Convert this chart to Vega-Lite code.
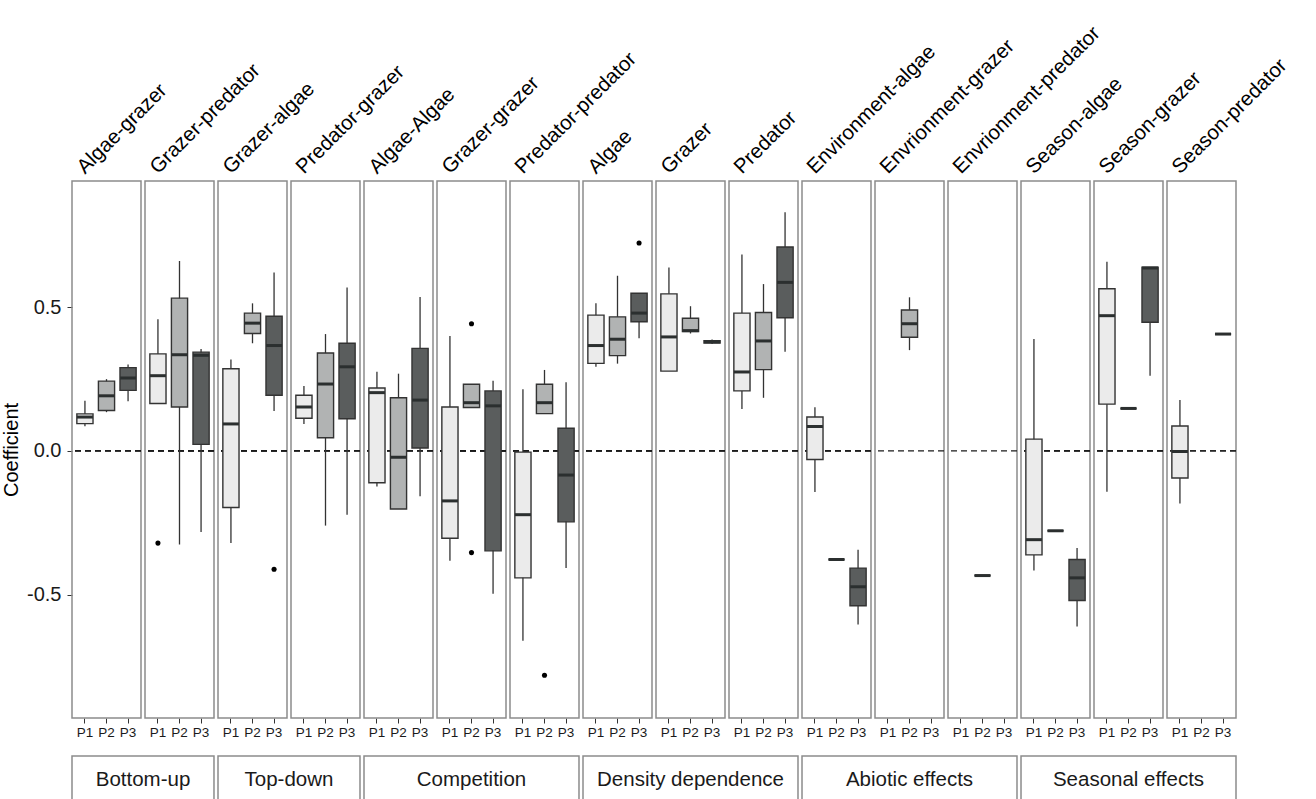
{
  "$schema": "https://vega.github.io/schema/vega-lite/v6.json",
  "background": "white",
  "padding": {"left": 1, "top": 22, "right": 5, "bottom": 0},
  "config": {
    "font": "Liberation Sans",
    "view": {"stroke": "#8c8c8c", "strokeWidth": 1.5},
    "axis": {"grid": false, "domain": false, "tickColor": "#333333", "labelColor": "#1a1a1a", "titleColor": "#000000", "titleFontWeight": "normal"},
    "concat": {"spacing": 16}
  },
  "vconcat": [
    {
      "data": {"values": [
        {"panel": "Algae-grazer", "period": "P1", "lower": 0.086, "q1": 0.095, "median": 0.118, "q3": 0.129, "upper": 0.175},
        {"panel": "Algae-grazer", "period": "P2", "lower": 0.135, "q1": 0.141, "median": 0.192, "q3": 0.243, "upper": 0.250},
        {"panel": "Algae-grazer", "period": "P3", "lower": 0.173, "q1": 0.211, "median": 0.254, "q3": 0.290, "upper": 0.301},
        {"panel": "Grazer-predator", "period": "P1", "lower": 0.165, "q1": 0.165, "median": 0.262, "q3": 0.338, "upper": 0.459},
        {"panel": "Grazer-predator", "period": "P2", "lower": -0.326, "q1": 0.153, "median": 0.335, "q3": 0.532, "upper": 0.661},
        {"panel": "Grazer-predator", "period": "P3", "lower": -0.282, "q1": 0.023, "median": 0.333, "q3": 0.344, "upper": 0.355},
        {"panel": "Grazer-algae", "period": "P1", "lower": -0.321, "q1": -0.197, "median": 0.094, "q3": 0.286, "upper": 0.318},
        {"panel": "Grazer-algae", "period": "P2", "lower": 0.375, "q1": 0.409, "median": 0.445, "q3": 0.480, "upper": 0.514},
        {"panel": "Grazer-algae", "period": "P3", "lower": 0.139, "q1": 0.194, "median": 0.367, "q3": 0.469, "upper": 0.621},
        {"panel": "Predator-grazer", "period": "P1", "lower": 0.094, "q1": 0.114, "median": 0.153, "q3": 0.194, "upper": 0.226},
        {"panel": "Predator-grazer", "period": "P2", "lower": -0.260, "q1": 0.046, "median": 0.233, "q3": 0.341, "upper": 0.407},
        {"panel": "Predator-grazer", "period": "P3", "lower": -0.222, "q1": 0.112, "median": 0.293, "q3": 0.375, "upper": 0.569},
        {"panel": "Algae-Algae", "period": "P1", "lower": -0.124, "q1": -0.111, "median": 0.203, "q3": 0.219, "upper": 0.276},
        {"panel": "Algae-Algae", "period": "P2", "lower": -0.202, "q1": -0.202, "median": -0.022, "q3": 0.185, "upper": 0.269},
        {"panel": "Algae-Algae", "period": "P3", "lower": -0.158, "q1": 0.010, "median": 0.177, "q3": 0.357, "upper": 0.536},
        {"panel": "Grazer-grazer", "period": "P1", "lower": -0.382, "q1": -0.304, "median": -0.174, "q3": 0.153, "upper": 0.400},
        {"panel": "Grazer-grazer", "period": "P2", "lower": 0.151, "q1": 0.151, "median": 0.168, "q3": 0.232, "upper": 0.232},
        {"panel": "Grazer-grazer", "period": "P3", "lower": -0.497, "q1": -0.348, "median": 0.157, "q3": 0.209, "upper": 0.244},
        {"panel": "Predator-predator", "period": "P1", "lower": -0.661, "q1": -0.442, "median": -0.222, "q3": -0.004, "upper": 0.215},
        {"panel": "Predator-predator", "period": "P2", "lower": 0.130, "q1": 0.130, "median": 0.168, "q3": 0.232, "upper": 0.282},
        {"panel": "Predator-predator", "period": "P3", "lower": -0.408, "q1": -0.247, "median": -0.084, "q3": 0.079, "upper": 0.239},
        {"panel": "Algae", "period": "P1", "lower": 0.293, "q1": 0.305, "median": 0.367, "q3": 0.473, "upper": 0.514},
        {"panel": "Algae", "period": "P2", "lower": 0.304, "q1": 0.332, "median": 0.389, "q3": 0.467, "upper": 0.610},
        {"panel": "Algae", "period": "P3", "lower": 0.392, "q1": 0.450, "median": 0.480, "q3": 0.549, "upper": 0.549},
        {"panel": "Grazer", "period": "P1", "lower": 0.278, "q1": 0.278, "median": 0.397, "q3": 0.547, "upper": 0.639},
        {"panel": "Grazer", "period": "P2", "lower": 0.409, "q1": 0.416, "median": 0.419, "q3": 0.462, "upper": 0.504},
        {"panel": "Grazer", "period": "P3", "lower": 0.372, "q1": 0.376, "median": 0.380, "q3": 0.384, "upper": 0.388},
        {"panel": "Predator", "period": "P1", "lower": 0.146, "q1": 0.209, "median": 0.275, "q3": 0.480, "upper": 0.684},
        {"panel": "Predator", "period": "P2", "lower": 0.185, "q1": 0.283, "median": 0.383, "q3": 0.482, "upper": 0.581},
        {"panel": "Predator", "period": "P3", "lower": 0.345, "q1": 0.464, "median": 0.587, "q3": 0.710, "upper": 0.831},
        {"panel": "Environment-algae", "period": "P1", "lower": -0.143, "q1": -0.030, "median": 0.085, "q3": 0.118, "upper": 0.152},
        {"panel": "Environment-algae", "period": "P2", "lower": -0.378, "q1": -0.378, "median": -0.378, "q3": -0.378, "upper": -0.378},
        {"panel": "Environment-algae", "period": "P3", "lower": -0.604, "q1": -0.539, "median": -0.473, "q3": -0.408, "upper": -0.344},
        {"panel": "Envrionment-grazer", "period": "P2", "lower": 0.351, "q1": 0.396, "median": 0.443, "q3": 0.491, "upper": 0.535},
        {"panel": "Envrionment-predator", "period": "P2", "lower": -0.434, "q1": -0.434, "median": -0.434, "q3": -0.434, "upper": -0.434},
        {"panel": "Season-algae", "period": "P1", "lower": -0.416, "q1": -0.362, "median": -0.309, "q3": 0.041, "upper": 0.390},
        {"panel": "Season-algae", "period": "P2", "lower": -0.278, "q1": -0.278, "median": -0.278, "q3": -0.278, "upper": -0.278},
        {"panel": "Season-algae", "period": "P3", "lower": -0.611, "q1": -0.521, "median": -0.442, "q3": -0.378, "upper": -0.338},
        {"panel": "Season-grazer", "period": "P1", "lower": -0.142, "q1": 0.163, "median": 0.471, "q3": 0.565, "upper": 0.659},
        {"panel": "Season-grazer", "period": "P2", "lower": 0.148, "q1": 0.148, "median": 0.148, "q3": 0.148, "upper": 0.148},
        {"panel": "Season-grazer", "period": "P3", "lower": 0.262, "q1": 0.448, "median": 0.637, "q3": 0.640, "upper": 0.640},
        {"panel": "Season-predator", "period": "P1", "lower": -0.183, "q1": -0.094, "median": -0.002, "q3": 0.087, "upper": 0.177},
        {"panel": "Season-predator", "period": "P3", "lower": 0.407, "q1": 0.407, "median": 0.407, "q3": 0.407, "upper": 0.407},
        {"panel": "Grazer-predator", "period": "P1", "outlier": -0.321},
        {"panel": "Grazer-algae", "period": "P3", "outlier": -0.412},
        {"panel": "Grazer-grazer", "period": "P2", "outlier": 0.443},
        {"panel": "Grazer-grazer", "period": "P2", "outlier": -0.354},
        {"panel": "Predator-predator", "period": "P2", "outlier": -0.781},
        {"panel": "Algae", "period": "P3", "outlier": 0.724}
      ]},
      "bounds": "flush",
      "facet": {
        "column": {
          "field": "panel", "type": "nominal", "title": null,
          "sort": ["Algae-grazer", "Grazer-predator", "Grazer-algae", "Predator-grazer", "Algae-Algae", "Grazer-grazer", "Predator-predator", "Algae", "Grazer", "Predator", "Environment-algae", "Envrionment-grazer", "Envrionment-predator", "Season-algae", "Season-grazer", "Season-predator"],
          "header": {"labels": false, "title": null}
        }
      },
      "spacing": 4,
      "spec": {
        "width": 69,
        "height": 537,
        "encoding": {
          "x": {"field": "period", "type": "nominal", "title": null,
            "scale": {"domain": ["P1", "P2", "P3"], "paddingInner": 0.25, "paddingOuter": 0.225},
            "axis": {"labelAngle": 0, "labelFontSize": 13.5, "tickSize": 5, "labelPadding": 2, "labelColor": "#1a1a1a"}}
        },
        "layer": [
          {
            "mark": {"type": "rule", "strokeDash": [6, 4], "color": "#1a1a1a", "strokeWidth": 1.3},
            "encoding": {"x": null, "y": {"datum": 0, "type": "quantitative"}}
          },
          {
            "transform": [{"filter": "isValid(datum.q1)"}],
            "mark": {"type": "rule", "color": "#333333", "strokeWidth": 1.3},
            "encoding": {
              "y": {"field": "lower", "type": "quantitative",
                "scale": {"domain": [-0.93, 0.94], "nice": false, "zero": false},
                "axis": {"title": "Coefficient", "values": [-0.5, 0, 0.5], "format": ".1f", "labelExpr": "replace(datum.label, '\u2212', '-')", "labelFontSize": 20, "titleFontSize": 20, "tickSize": 5, "labelPadding": 6, "titlePadding": 5}},
              "y2": {"field": "upper"}
            }
          },
          {
            "transform": [{"filter": "isValid(datum.q1)"}],
            "mark": {"type": "bar", "stroke": "#333333", "strokeWidth": 1.4},
            "encoding": {
              "y": {"field": "q1", "type": "quantitative"},
              "y2": {"field": "q3"},
              "fill": {"field": "period", "type": "nominal", "legend": null,
                "scale": {"domain": ["P1", "P2", "P3"], "range": ["#ebebeb", "#b1b3b3", "#5a5d5d"]}}
            }
          },
          {
            "transform": [{"filter": "isValid(datum.q1)"}],
            "mark": {"type": "tick", "color": "#2b2f2f", "thickness": 3, "size": 16, "opacity": 1},
            "encoding": {"y": {"field": "median", "type": "quantitative"}}
          },
          {
            "transform": [{"filter": "isValid(datum.outlier)"}],
            "mark": {"type": "point", "filled": true, "color": "#000000", "size": 26, "opacity": 1},
            "encoding": {"y": {"field": "outlier", "type": "quantitative"}}
          },
          {
            "transform": [{"aggregate": [{"op": "count", "as": "n"}], "groupby": ["panel"]}],
            "mark": {"type": "text", "angle": -45, "align": "left", "baseline": "alphabetic", "fontSize": 20.5, "color": "#000000", "clip": false},
            "encoding": {
              "x": {"datum": "P1", "type": "nominal"},
              "y": {"datum": 0.962, "type": "quantitative"},
              "text": {"field": "panel"}
            }
          }
        ]
      }
    },
    {
      "width": 1164,
      "height": 48,
      "view": {"stroke": null},
      "data": {"values": [
        {"group": "Bottom-up", "start": 0, "end": 1.945, "mid": 0.9725},
        {"group": "Top-down", "start": 2, "end": 3.945, "mid": 2.9725},
        {"group": "Competition", "start": 4, "end": 6.945, "mid": 5.4725},
        {"group": "Density dependence", "start": 7, "end": 9.945, "mid": 8.4725},
        {"group": "Abiotic effects", "start": 10, "end": 12.945, "mid": 11.4725},
        {"group": "Seasonal effects", "start": 13, "end": 15.945, "mid": 14.4725}
      ]},
      "layer": [
        {
          "mark": {"type": "rect", "fill": "white", "stroke": "#8c8c8c", "strokeWidth": 1.5},
          "encoding": {
            "x": {"field": "start", "type": "quantitative", "scale": {"domain": [0, 15.945], "nice": false, "zero": false}, "axis": null},
            "x2": {"field": "end"}
          }
        },
        {
          "mark": {"type": "text", "fontSize": 20.5, "color": "#1a1a1a", "baseline": "middle"},
          "encoding": {
            "x": {"field": "mid", "type": "quantitative"},
            "text": {"field": "group"}
          }
        }
      ]
    }
  ]
}
